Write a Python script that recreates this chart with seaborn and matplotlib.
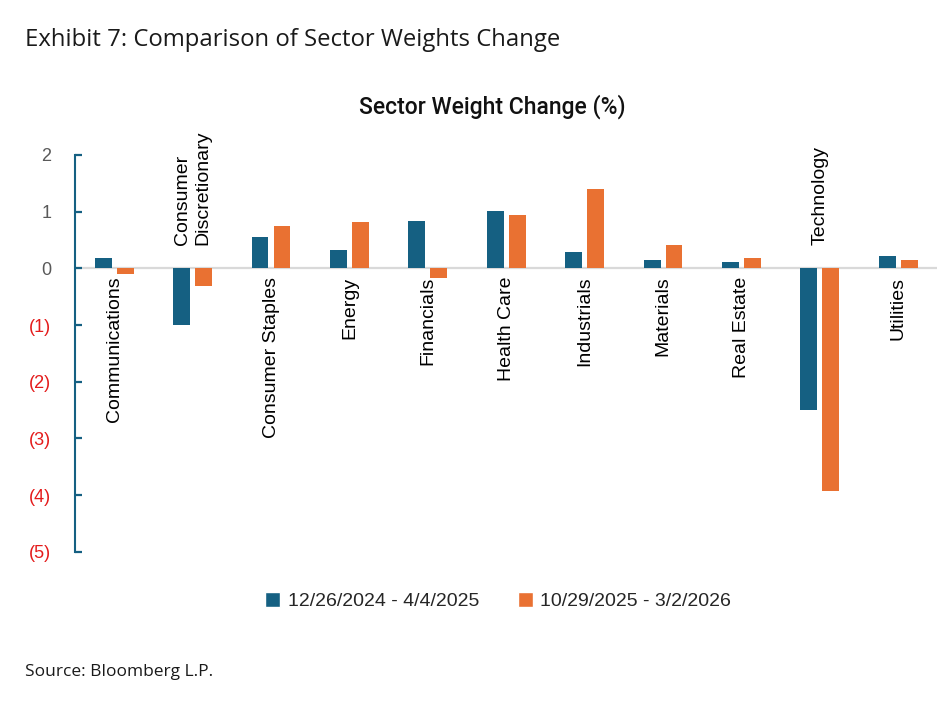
import matplotlib
matplotlib.use('Agg')
import matplotlib.pyplot as plt
import pandas as pd
import seaborn as sns
from matplotlib.patches import Patch
from matplotlib.ticker import FuncFormatter

# Data
sectors = ['Communications', 'Consumer\nDiscretionary', 'Consumer Staples', 'Energy',
           'Financials', 'Health Care', 'Industrials', 'Materials', 'Real Estate',
           'Technology', 'Utilities']
period_1 = '12/26/2024 - 4/4/2025'
period_2 = '10/29/2025 - 3/2/2026'
change_1 = [0.18, -1.00, 0.56, 0.32, 0.84, 1.01, 0.28, 0.15, 0.11, -2.50, 0.21]
change_2 = [-0.10, -0.31, 0.74, 0.81, -0.17, 0.94, 1.40, 0.42, 0.18, -3.93, 0.14]
y_ticks = [2, 1, 0, -1, -2, -3, -4, -5]

df = pd.DataFrame({
    'Sector': sectors * 2,
    'Change': change_1 + change_2,
    'Period': [period_1] * len(sectors) + [period_2] * len(sectors),
})

blue = '#156082'
orange = '#E97132'

sns.set_style('white')
plt.rcParams['font.family'] = ['Liberation Sans', 'DejaVu Sans']

fig = plt.figure(figsize=(9.53, 7.04), dpi=100)
ax = fig.add_axes([0.0787, 0.216, 0.905, 0.564])

sns.barplot(data=df, x='Sector', y='Change', hue='Period', palette=[blue, orange],
            saturation=1, width=0.56, gap=0.23, linewidth=0, legend=False, ax=ax)

ax.axhline(0, color='#d9d9d9', lw=1.6, zorder=0)
ax.set_ylim(-5, 2)
ax.set_xlim(-0.5, len(sectors) - 0.5)
ax.set_yticks(y_ticks)
ax.yaxis.set_major_formatter(FuncFormatter(lambda v, p: f'({abs(int(v))})' if v < 0 else f'{int(v)}'))
ax.tick_params(axis='y', left=True, direction='in', length=5, width=1.6, color=blue,
               labelsize=13, pad=17)
for lab in ax.get_yticklabels():
    lab.set_color('#e41b1b' if lab.get_text().startswith('(') else '#595959')
ax.set_xticks([])
ax.set_xlabel('')
ax.set_ylabel('')
for s in ['top', 'right', 'bottom']:
    ax.spines[s].set_visible(False)
ax.spines['left'].set_color(blue)
ax.spines['left'].set_linewidth(1.5)

# category labels next to the zero line
for i, (name, v1, v2) in enumerate(zip(sectors, change_1, change_2)):
    if v1 < 0 and v2 < 0:
        ax.annotate(name, (i, 0), xytext=(0, 16.5), textcoords='offset points',
                    rotation=90, ha='center', va='bottom', fontsize=14,
                    multialignment='left', color='black')
    else:
        ax.annotate(name, (i, 0), xytext=(0, -6), textcoords='offset points',
                    rotation=90, ha='center', va='top', fontsize=14, color='black')

fig.text(0.517, 0.848, 'Sector Weight Change (%)', ha='center', va='center',
         fontsize=16.5, family=['Roboto', 'DejaVu Sans'], fontweight='medium', color='#111111')
fig.text(0.026, 0.943, 'Exhibit 7: Comparison of Sector Weights Change', ha='left',
         va='center', fontsize=17.2, family=['Open Sans', 'DejaVu Sans'], color='#1a1a1a')
fig.text(0.026, 0.045, 'Source: Bloomberg L.P.', ha='left', va='center',
         fontsize=12.5, family=['Open Sans', 'DejaVu Sans'], color='#1a1a1a')

handles = [Patch(facecolor=blue, label=period_1), Patch(facecolor=orange, label=period_2)]
fig.legend(handles=handles, loc='center', bbox_to_anchor=(0.523, 0.146), ncol=2,
           frameon=False, fontsize=14, handlelength=0.75, handleheight=0.75,
           handletextpad=0.4, columnspacing=2.0)

fig.savefig('out.png', dpi=100)
